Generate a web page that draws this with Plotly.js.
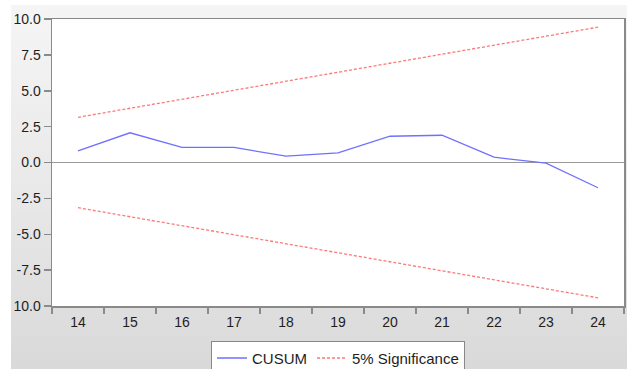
<!DOCTYPE html>
<html>
<head>
<meta charset="utf-8">
<script src="https://cdn.plot.ly/plotly-3.0.1.min.js"></script>
<style>
  html, body { margin: 0; padding: 0; background: #ffffff; overflow: hidden; width: 627px; height: 369px; }
  #bg { position: absolute; left: 11px; top: 5px; width: 616px; height: 364px;
        background: linear-gradient(to bottom, #f5f5f5 0%, #e9e9e9 50%, #d9d9d9 100%); }
  #chart { position: absolute; left: 0; top: 0; width: 627px; height: 385px; }
</style>
</head>
<body>
<div id="bg"></div>
<div id="chart"></div>
<script>
const periods = [14, 15, 16, 17, 18, 19, 20, 21, 22, 23, 24];
const cusum = [0.81, 2.07, 1.05, 1.05, 0.44, 0.67, 1.83, 1.9, 0.37, -0.05, -1.76];
const upper = [3.15, 3.78, 4.41, 5.04, 5.67, 6.3, 6.92, 7.55, 8.18, 8.81, 9.43];
const lower = [-3.15, -3.78, -4.41, -5.04, -5.67, -6.3, -6.92, -7.55, -8.18, -8.81, -9.43];
const yTickVals = [10, 7.5, 5, 2.5, 0, -2.5, -5, -7.5, -10];
const yTickText = ["10.0", "7.5", "5.0", "2.5", "0.0", "-2.5", "-5.0", "-7.5", "10.0"];
const xTickText = periods.map(String);

const font = { family: "Liberation Sans, Arial, sans-serif", size: 14, color: "#1e1e1e" };

const traces = [
  { x: periods, y: cusum, type: "scatter", mode: "lines", name: "CUSUM",
    line: { color: "#7070ff", width: 1.3 } },
  { x: periods, y: upper, type: "scatter", mode: "lines", name: "5% Significance",
    line: { color: "#ff7777", width: 1.3, dash: "3px,2px" } },
  { x: periods, y: lower, type: "scatter", mode: "lines", name: "5% Significance", showlegend: false,
    line: { color: "#ff7777", width: 1.3, dash: "3px,2px" } }
];

const layout = {
  width: 627, height: 385,
  margin: { l: 52, r: 3, t: 19, b: 79, pad: 0 },
  paper_bgcolor: "rgba(0,0,0,0)",
  plot_bgcolor: "#ffffff",
  font: font,
  showlegend: true,
  legend: {
    orientation: "h", x: 0.5, xanchor: "center", y: -0.121, yanchor: "top",
    bgcolor: "#ffffff", bordercolor: "#888888", borderwidth: 1,
    font: { family: "Liberation Sans, Arial, sans-serif", size: 15, color: "#1e1e1e" },
    itemwidth: 30, tracegroupgap: 0
  },
  xaxis: {
    range: [13.5, 24.5], tickmode: "array", tickvals: periods, ticktext: xTickText,
    ticks: "outside", ticklen: 3, tickcolor: "rgba(0,0,0,0)",
    showgrid: false, zeroline: false,
    showline: true, linecolor: "#8a8a8a", linewidth: 1.5, mirror: true,
    minor: { tick0: 13.5, dtick: 1, ticks: "outside", ticklen: 6, tickcolor: "#8a8a8a", tickwidth: 1.5, showgrid: false },
    tickfont: font, fixedrange: true
  },
  yaxis: {
    range: [-10, 10], tickmode: "array", tickvals: yTickVals, ticktext: yTickText,
    ticks: "outside", ticklen: 7, tickcolor: "#8a8a8a", tickwidth: 1.5,
    showgrid: false, zeroline: true, zerolinecolor: "#999999", zerolinewidth: 1.5,
    showline: true, linecolor: "#8a8a8a", linewidth: 1.5, mirror: true,
    tickfont: font, fixedrange: true
  }
};

Plotly.newPlot("chart", traces, layout, { displayModeBar: false, staticPlot: true });
</script>
</body>
</html>
